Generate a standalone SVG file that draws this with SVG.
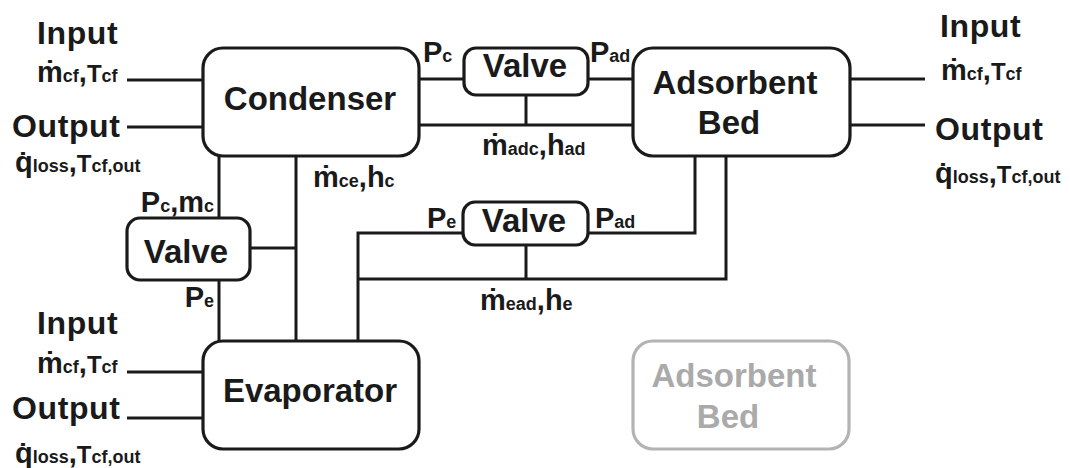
<svg xmlns="http://www.w3.org/2000/svg" width="1070" height="468" viewBox="0 0 1070 468">
<style>
.t{font-family:"Liberation Sans",Arial,"DejaVu Sans",sans-serif;font-weight:bold;fill:#1a1a1a}
.big{font-size:32px;letter-spacing:0.6px}
.box{font-size:33px;text-anchor:middle}
.m{font-size:29px}
.T{font-size:24px}
.s{font-size:18px}
.node{fill:#fff;stroke:#1a1a1a;stroke-width:3.2}
.ghost{fill:#fff;stroke:#b3b3b3;stroke-width:3.2}
.gt{fill:#aaaaaa}
.c{fill:none;stroke:#1a1a1a;stroke-width:3}
</style>
<rect width="1070" height="468" fill="#fff"/>
<g id="connectors">
<path class="c" d="M127,80 H203 M127,127 H203 M850,79 H925 M850,125 H925 M127,372 H203 M127,418 H203"/>
<path class="c" d="M419,79 H464 M588,79 H633 M419,125 H633 M526,95 V125"/>
<path class="c" d="M219,156 V218 M219,280 V341 M296,156 V341 M250,248 H296"/>
<path class="c" d="M463,233 H358 V341 M588,233 H695 V156 M358,279 H726 V156 M526,245 V279"/>
</g>
<g id="condenser">
<rect class="node" x="203" y="48" width="216" height="108" rx="20"/>
<text class="t box" x="310" y="110">Condenser</text>
</g>
<g id="valve-top">
<rect class="node" x="464" y="48" width="124" height="47" rx="12"/>
<text class="t box" x="525" y="77">Valve</text>
</g>
<g id="adsorbent-bed">
<rect class="node" x="633" y="48" width="217" height="108" rx="20"/>
<text class="t box" x="735" y="94">Adsorbent</text>
<text class="t box" x="729" y="134">Bed</text>
</g>
<g id="valve-left">
<rect class="node" x="127" y="218" width="123" height="62" rx="13"/>
<text class="t box" x="186" y="263">Valve</text>
</g>
<g id="valve-lower">
<rect class="node" x="463" y="202" width="125" height="43" rx="12"/>
<text class="t box" x="524" y="232">Valve</text>
</g>
<g id="evaporator">
<rect class="node" x="203" y="341" width="216" height="108" rx="20"/>
<text class="t box" x="310" y="402">Evaporator</text>
</g>
<g id="adsorbent-bed-ghost">
<rect class="ghost" x="633" y="341" width="216" height="108" rx="20"/>
<text class="t box gt" x="734" y="387">Adsorbent</text>
<text class="t box gt" x="728" y="428">Bed</text>
</g>
<g id="labels">
<text class="t big" x="37" y="44">Input</text>
<text class="t" x="37" y="82"><tspan class="m">ṁ</tspan><tspan class="s">cf</tspan><tspan class="m">,</tspan><tspan class="T">T</tspan><tspan class="s">cf</tspan></text>
<text class="t big" x="12" y="137">Output</text>
<text class="t" x="15" y="172"><tspan class="m">q̇</tspan><tspan class="s">loss</tspan><tspan class="m">,</tspan><tspan class="T">T</tspan><tspan class="s">cf,out</tspan></text>

<text class="t big" x="37" y="334">Input</text>
<text class="t" x="37" y="373"><tspan class="m">ṁ</tspan><tspan class="s">cf</tspan><tspan class="m">,</tspan><tspan class="T">T</tspan><tspan class="s">cf</tspan></text>
<text class="t big" x="12" y="419">Output</text>
<text class="t" x="15" y="463"><tspan class="m">q̇</tspan><tspan class="s">loss</tspan><tspan class="m">,</tspan><tspan class="T">T</tspan><tspan class="s">cf,out</tspan></text>

<text class="t big" x="940" y="37">Input</text>
<text class="t" x="941" y="80"><tspan class="m">ṁ</tspan><tspan class="s">cf</tspan><tspan class="m">,</tspan><tspan class="T">T</tspan><tspan class="s">cf</tspan></text>
<text class="t big" x="935" y="140">Output</text>
<text class="t" x="935" y="183"><tspan class="m">q̇</tspan><tspan class="s">loss</tspan><tspan class="m">,</tspan><tspan class="T">T</tspan><tspan class="s">cf,out</tspan></text>

<text class="t" x="423" y="62"><tspan class="m">P</tspan><tspan class="s">c</tspan></text>
<text class="t" x="590" y="62"><tspan class="m">P</tspan><tspan class="s">ad</tspan></text>
<text class="t" x="482" y="155"><tspan class="m">ṁ</tspan><tspan class="s">adc</tspan><tspan class="m">,h</tspan><tspan class="s">ad</tspan></text>
<text class="t" x="214" y="212" text-anchor="end"><tspan class="m">P</tspan><tspan class="s">c</tspan><tspan class="m">,m</tspan><tspan class="s">c</tspan></text>
<text class="t" x="214" y="307" text-anchor="end"><tspan class="m">P</tspan><tspan class="s">e</tspan></text>
<text class="t" x="313" y="187"><tspan class="m">ṁ</tspan><tspan class="s">ce</tspan><tspan class="m">,h</tspan><tspan class="s">c</tspan></text>
<text class="t" x="427" y="228"><tspan class="m">P</tspan><tspan class="s">e</tspan></text>
<text class="t" x="595" y="228"><tspan class="m">P</tspan><tspan class="s">ad</tspan></text>
<text class="t" x="480" y="310"><tspan class="m">ṁ</tspan><tspan class="s">ead</tspan><tspan class="m">,h</tspan><tspan class="s">e</tspan></text>
</g>
</svg>
